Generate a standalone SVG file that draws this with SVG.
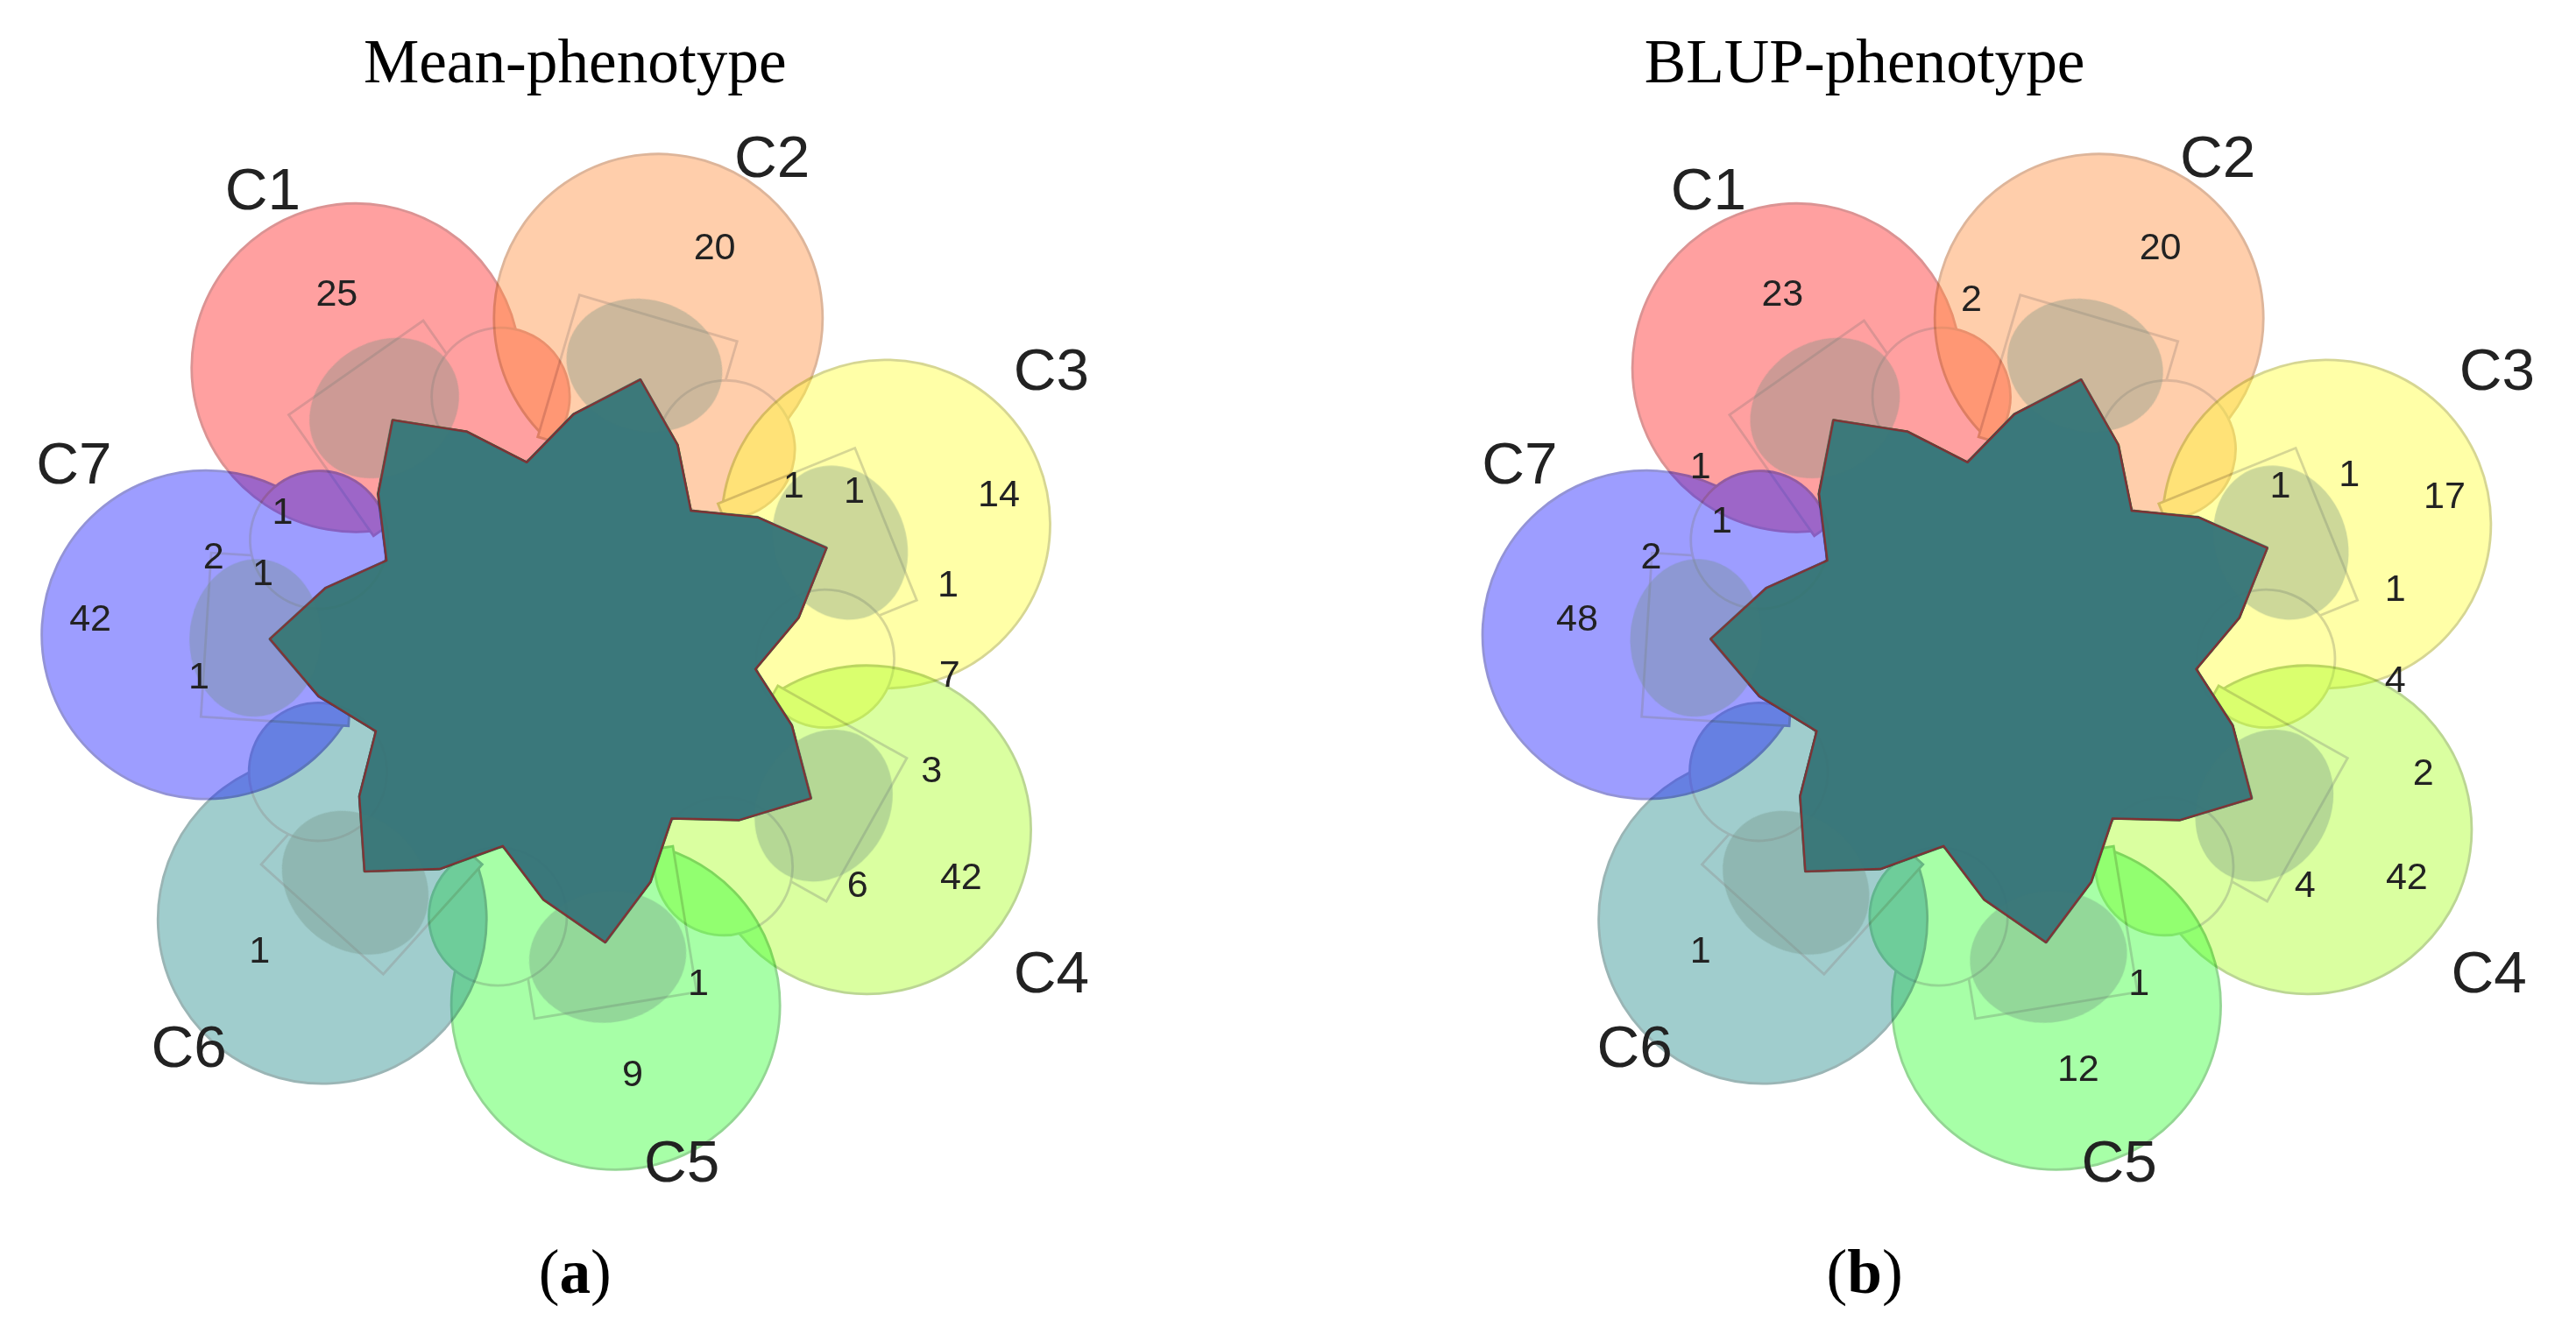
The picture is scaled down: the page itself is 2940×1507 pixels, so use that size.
<svg xmlns="http://www.w3.org/2000/svg" xmlns:xlink="http://www.w3.org/1999/xlink" width="2940" height="1507" viewBox="0 0 2940 1507">
<style>
.t{font-family:"Liberation Serif",serif;font-size:38px;fill:#000;text-anchor:middle}
.n{font-family:"Liberation Sans",Arial,sans-serif;font-size:23px;fill:#222;text-anchor:middle;dominant-baseline:middle}
.c{font-family:"Liberation Sans",Arial,sans-serif;font-size:36px;fill:#222;text-anchor:middle;dominant-baseline:middle}
.s{opacity:0.42;stroke-width:1.5}
.core{fill:#3a7877;opacity:0.9;stroke:#8a3030;stroke-width:1.2}
.inner{fill:#6f8f80;opacity:0.35}
</style>
<defs>
<polygon id="star" stroke-linejoin="round" points="0,-176 32.9,-144.3 52.1,-108.1 92.3,-115.7 137.6,-109.7 133.3,-64.2 117,-26.7 148,0 171.6,39.2 133.3,64.2 93.8,74.8 92.3,115.7 76.4,158.6 32.9,144.3 0,120 -32.9,144.3 -76.4,158.6 -92.3,115.7 -93.8,74.8 -133.3,64.2 -171.6,39.2 -148,0 -117,-26.7 -133.3,-64.2 -137.6,-109.7 -92.3,-115.7 -52.1,-108.1 -32.9,-144.3"/>
<g id="shape">
<circle cx="0" cy="-215" r="100"/>
<rect x="-50" y="-215" width="100" height="90"/>
<use xlink:href="#star"/>
<circle cx="62" cy="-150" r="42"/>
</g>
<g id="inners">
<ellipse cx="0" cy="-185" rx="48" ry="40" transform="rotate(-35)"/>
<ellipse cx="0" cy="-185" rx="48" ry="40" transform="rotate(16.4)"/>
<ellipse cx="0" cy="-185" rx="48" ry="40" transform="rotate(67.9)"/>
<ellipse cx="0" cy="-185" rx="48" ry="40" transform="rotate(119.3)"/>
<ellipse cx="0" cy="-185" rx="48" ry="40" transform="rotate(170.7)"/>
<ellipse cx="0" cy="-185" rx="48" ry="40" transform="rotate(222)"/>
<ellipse cx="0" cy="-185" rx="48" ry="40" transform="rotate(273.6)"/>
</g>
</defs>
<rect width="2940" height="1507" fill="#fff"/>
<g transform="scale(1.875)">
<text class="t" x="350" y="50">Mean-phenotype</text>
<text class="t" x="1135" y="50">BLUP-phenotype</text>
<text class="t" x="350" y="787">(<tspan font-weight="bold">a</tspan>)</text>
<text class="t" x="1135" y="787">(<tspan font-weight="bold">b</tspan>)</text>

<g id="venn-a" transform="translate(340,400)">
<g id="a-C1" class="s" fill="#ff2020" stroke="#a00"><use xlink:href="#shape" transform="rotate(-35)"/></g>
<g id="a-C2" class="s" fill="#ff8c3a" stroke="#b05010"><use xlink:href="#shape" transform="rotate(16.4)"/></g>
<g id="a-C3" class="s" fill="#ffff30" stroke="#a0a000"><use xlink:href="#shape" transform="rotate(67.9)"/></g>
<g id="a-C4" class="s" fill="#a8ff20" stroke="#60a000"><use xlink:href="#shape" transform="rotate(119.3)"/></g>
<g id="a-C5" class="s" fill="#30ff30" stroke="#00a000"><use xlink:href="#shape" transform="rotate(170.7)"/></g>
<g id="a-C6" class="s" fill="#208a8a" stroke="#105050"><use xlink:href="#shape" transform="rotate(222)"/></g>
<g id="a-C7" class="s" fill="#1818ff" stroke="#0000a0"><use xlink:href="#shape" transform="rotate(273.6)"/></g>
<use class="inner" xlink:href="#inners"/>
<use class="core" xlink:href="#star" transform="rotate(-35)"/>
</g>
<g id="labels-a">
<text class="n" x="205" y="180">25</text><text class="n" x="435" y="152">20</text>
<text class="n" x="483" y="297">1</text><text class="n" x="520" y="300">1</text>
<text class="n" x="608" y="302">14</text><text class="n" x="577" y="357">1</text>
<text class="n" x="578" y="412">7</text><text class="n" x="567" y="470">3</text>
<text class="n" x="585" y="535">42</text><text class="n" x="522" y="540">6</text>
<text class="n" x="425" y="600">1</text><text class="n" x="385" y="655">9</text>
<text class="n" x="158" y="580">1</text><text class="n" x="121" y="413">1</text>
<text class="n" x="55" y="378">42</text><text class="n" x="130" y="340">2</text>
<text class="n" x="160" y="350">1</text><text class="n" x="172" y="313">1</text>
<text class="c" x="160" y="118">C1</text><text class="c" x="470" y="98">C2</text>
<text class="c" x="640" y="228">C3</text><text class="c" x="640" y="595">C4</text>
<text class="c" x="415" y="710">C5</text><text class="c" x="115" y="640">C6</text>
<text class="c" x="45" y="285">C7</text>
</g>

<g id="venn-b" transform="translate(1217,400)">
<g id="b-C1" class="s" fill="#ff2020" stroke="#a00"><use xlink:href="#shape" transform="rotate(-35)"/></g>
<g id="b-C2" class="s" fill="#ff8c3a" stroke="#b05010"><use xlink:href="#shape" transform="rotate(16.4)"/></g>
<g id="b-C3" class="s" fill="#ffff30" stroke="#a0a000"><use xlink:href="#shape" transform="rotate(67.9)"/></g>
<g id="b-C4" class="s" fill="#a8ff20" stroke="#60a000"><use xlink:href="#shape" transform="rotate(119.3)"/></g>
<g id="b-C5" class="s" fill="#30ff30" stroke="#00a000"><use xlink:href="#shape" transform="rotate(170.7)"/></g>
<g id="b-C6" class="s" fill="#208a8a" stroke="#105050"><use xlink:href="#shape" transform="rotate(222)"/></g>
<g id="b-C7" class="s" fill="#1818ff" stroke="#0000a0"><use xlink:href="#shape" transform="rotate(273.6)"/></g>
<use class="inner" xlink:href="#inners"/>
<use class="core" xlink:href="#star" transform="rotate(-35)"/>
</g>
<g id="labels-b">
<text class="n" x="1085" y="180" font-size="27">23</text><text class="n" x="1200" y="183" font-size="27">2</text>
<text class="n" x="1315" y="152" font-size="27">20</text><text class="n" x="1388" y="297" font-size="27">1</text>
<text class="n" x="1430" y="290" font-size="27">1</text><text class="n" x="1488" y="303" font-size="27">17</text>
<text class="n" x="1458" y="360" font-size="27">1</text><text class="n" x="1458" y="415" font-size="27">4</text>
<text class="n" x="1475" y="472" font-size="27">2</text><text class="n" x="1465" y="535" font-size="27">42</text>
<text class="n" x="1403" y="540" font-size="27">4</text><text class="n" x="1302" y="600" font-size="27">1</text>
<text class="n" x="1265" y="652" font-size="27">12</text><text class="n" x="1035" y="580" font-size="27">1</text>
<text class="n" x="960" y="378" font-size="27">48</text><text class="n" x="1005" y="340" font-size="27">2</text>
<text class="n" x="1035" y="285" font-size="27">1</text><text class="n" x="1048" y="318" font-size="27">1</text>
<text class="c" x="1040" y="118">C1</text><text class="c" x="1350" y="98">C2</text>
<text class="c" x="1520" y="228">C3</text><text class="c" x="1515" y="595">C4</text>
<text class="c" x="1290" y="710">C5</text><text class="c" x="995" y="640">C6</text>
<text class="c" x="925" y="285">C7</text>
</g>
</g>
</svg>
